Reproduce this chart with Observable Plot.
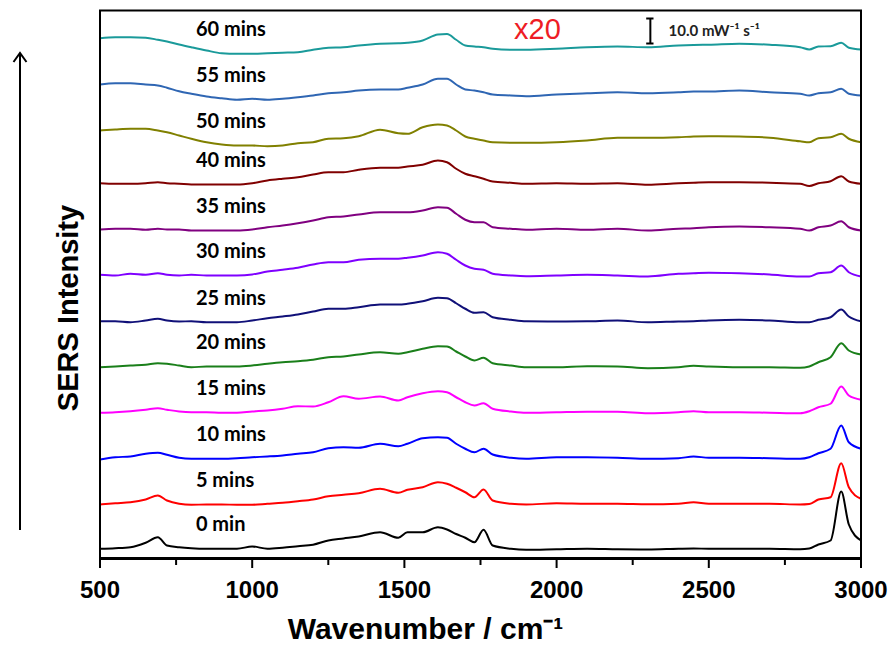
<!DOCTYPE html>
<html>
<head>
<meta charset="utf-8">
<script src="https://cdn.jsdelivr.net/npm/d3@7"></script>
<script src="https://cdn.jsdelivr.net/npm/@observablehq/plot@0.6"></script>
<style>
  html, body { margin: 0; padding: 0; background: #fff; }
  #chart { width: 890px; height: 648px; }
</style>
</head>
<body>
<div id="chart"></div>
<script>
// Wavenumber sample positions (cm^-1)
const wavenumbers = [500,550,600,650,690,720,760,800,850,900,950,1000,1050,1100,1150,1200,1250,1300,1350,1420,1480,1510,1560,1610,1640,1670,1700,1730,1760,1790,1850,1900,2000,2100,2200,2300,2400,2450,2500,2600,2700,2800,2830,2860,2900,2935,2960,3000];

// Spectra (intensity relative to each trace's baseline, mW^-1 s^-1, x20)
const s0  = [0.3,0.5,0.9,2.7,4.9,1.6,0.9,0.5,0.3,0.3, 0.3,1.2,0.3,0.7,1.3,1.9,3.6,4.4,5.2,6.9, 4.7,6.9,6.9,8.9,8.0,6.2,4.7,2.9,7.9,1.6, 0.3,-0.1,0.1,0.3,0.1,0,0.3,0.4,0.3,0.3, 0.3,0.1,0.4,2.0,3.6,23.2,10.0,3.6];
const s5  = [0,0.5,0.9,2.0,3.6,1.6,0.3,-0.1,0,0, -0.1,-0.1,0.3,0.7,1.3,2.0,3.3,3.9,4.5,6.3, 4.7,5.9,6.9,8.9,8.3,6.7,4.9,2.9,6.0,1.6, 0.3,0,0.5,0.3,0.3,0.1,0.3,0.9,0.3,0.3, 0.3,0,0.2,2.0,2.9,16.5,6.9,2.3];
const s10 = [0,0.9,1.2,2.3,2.7,1.9,0.7,0.3,0.3,0.3, 0.5,0.9,1.2,1.6,2.3,2.9,4.5,4.9,4.7,6.3, 5.3,6.3,8.5,8.9,8.7,6.3,4.3,2.9,4.3,2.0, 0.7,0.3,0.9,0.9,0.7,0.3,0.5,1.2,0.7,0.7, 0.5,0.3,0.9,2.5,4.3,13.6,6.9,4.3];
const s15 = [0.1,0.3,0.7,1.3,1.9,1.3,0.6,0.3,0.3,0.1, 0.1,0.6,1.0,1.7,2.7,2.6,4.3,6.7,5.7,6.6, 5.0,6.3,7.9,8.7,8.3,6.3,4.3,3.0,3.9,1.7, 0.6,0.1,0.3,0.5,0.5,-0.1,0.3,0.7,0.3,0.3, 0.1,-0.1,0.7,2.3,3.7,10.6,7.0,5.3];
const s20 = [-0.1,0.2,0.6,0.9,1.5,1.3,0.6,-0.1,0.2,0.2, 0.2,0.6,1.3,1.9,2.3,2.9,3.9,4.2,5.0,5.9, 5.3,5.9,7.3,8.3,8.2,6.2,4.2,2.6,3.7,1.5, 0.6,-0.1,-0.1,0.3,0.2,-0.5,-0.1,0.5,0.2,-0.1, -0.1,-0.3,0.2,1.9,3.9,9.5,6.6,5.0];
const s25 = [-0.1,-0.1,-0.5,0.2,0.9,0.2,-0.2,-0.1,-0.5,-0.5, -0.5,0.2,1.1,1.8,2.6,3.8,4.9,4.9,5.5,6.6, 6.6,6.9,7.9,9.3,9.1,7.1,4.9,3.3,3.5,1.5, 0.5,-0.1,-0.2,-0.1,0.2,-0.5,-0.2,-0.1,0.2,0.5, 0.2,-0.5,-0.5,0.5,1.5,4.6,1.8,-0.1];
const s30 = [0.1,-0.2,0.5,0.1,0.7,0.1,-0.2,0.1,-0.2,-0.2, -0.2,0.2,1.4,2.1,2.9,4.2,5.1,5.1,6.1,6.5, 6.5,6.9,7.8,9.1,8.5,6.1,3.8,2.5,2.1,0.5, -0.2,-0.5,-0.2,0.1,-0.2,-0.6,0.5,0.7,0.9,0.7, 0.2,-0.6,-0.6,0.7,1.1,3.8,1.1,-0.6];
const s35 = [0,0.3,0.3,-0.1,0.3,0,0,-0.4,-0.4,-0.4, -0.4,0,0.9,1.6,2.5,3.6,4.9,5.2,6.0,6.9, 6.9,6.9,7.6,8.9,8.7,6.3,3.9,2.9,2.9,0.9, 0.3,-0.1,0.3,-0.1,0.3,-0.4,0.3,0.5,0.9,1.2, 0.9,0.3,-0.4,0.9,1.6,3.3,0.9,-0.4];
const s40 = [0.1,-0.1,-0.1,0.1,0.5,0.1,-0.1,-0.4,-0.4,-0.4, -0.4,0.1,1.2,1.9,2.5,3.6,4.5,4.5,5.5,6.3, 6.3,6.8,7.5,9.2,8.5,5.9,3.9,2.9,1.9,0.8, 0.3,-0.1,0.1,-0.1,0.1,-0.5,0.1,0.3,0.5,0.5, 0.3,-0.1,-1.0,0.1,0.9,2.9,0.8,-0.1];
const s50 = [0,0.4,0.7,0.7,0,-0.7,-2.0,-3.3,-4.7,-5.6, -6.0,-6.0,-6.3,-6.0,-5.1,-4.7,-3.3,-3.1,-2.3,0.3, -1.1,-1.3,1.3,2.4,2.0,0,-2.4,-3.3,-4.0,-4.7, -4.9,-4.9,-4.7,-4.0,-2.9,-2.9,-2.7,-2.4,-2.3,-2.4, -2.9,-4.3,-4.7,-3.1,-2.7,-1.3,-3.3,-4.7];
const s55 = [0,0.5,0.5,0,-0.4,-1.3,-2.7,-3.7,-4.8,-5.5, -6.1,-5.7,-6.1,-5.7,-5.1,-4.4,-3.5,-3.1,-2.4,-2.0, -2.0,-1.3,0,2.3,2.3,0,-2.0,-2.4,-3.1,-4.0, -4.4,-4.7,-4.0,-3.5,-3.1,-3.5,-3.1,-2.8,-2.8,-2.4, -3.1,-3.7,-4.4,-3.5,-3.1,-1.7,-3.7,-4.4];
const s60 = [-0.1,0.3,0.3,0.1,-0.7,-1.4,-2.6,-3.7,-5.0,-6.1, -6.3,-6.3,-6.1,-5.9,-5.7,-4.7,-3.9,-3.7,-3.0,-2.3, -2.1,-1.9,-1.0,1.4,1.6,-0.7,-3.0,-3.4,-3.7,-4.3, -4.7,-4.7,-4.3,-3.7,-3.4,-3.7,-3.0,-2.8,-2.7,-2.3, -2.7,-3.7,-4.6,-3.4,-3.3,-1.9,-3.9,-4.6];

const spectra = [s0, s5, s10, s15, s20, s25, s30, s35, s40, s50, s55, s60];
const names   = ["0 min","5 mins","10 mins","15 mins","20 mins","25 mins","30 mins","35 mins","40 mins","50 mins","55 mins","60 mins"];
const offsets = [3.6, 21.6, 39.6, 58.2, 76.6, 95.0, 113.4, 131.6, 150.0, 171.2, 189.6, 208.2];
const colors  = ["#000000","#ff0000","#0000ff","#ff00ff","#1a7f1a","#101078","#7f00ff","#800080","#800000","#808000","#2f66b3","#1a9a9a"];

const majorTicks = [500, 1000, 1500, 2000, 2500, 3000];
const minorTicks = [750, 1250, 1750, 2250, 2750];

const scaleBar = {x: 2308, y1: 206, y2: 216, text: "10.0 mW\u207B\u00B9 s\u207B\u00B9", textX: 2368};
const magnification = {x: 1937, y: 211.6, text: "x20"};

const rows = [];
spectra.forEach((s, i) => s.forEach((v, j) => rows.push({wn: wavenumbers[j], y: offsets[i] + v, name: names[i]})));
const labelRows = names.map((n, i) => ({name: n, x: 815, y: offsets[i] + spectra[i][wavenumbers.indexOf(950)] + 9.6}));

const plot = Plot.plot({
  width: 890,
  height: 648,
  marginTop: 10,
  marginBottom: 90,
  marginLeft: 99.5,
  marginRight: 29.5,
  x: {domain: [500, 3000]},
  y: {domain: [0, 219.2], axis: null},
  color: {domain: names, range: colors},
  style: {background: "white", fontFamily: "'Liberation Sans', Arial, sans-serif", color: "black"},
  marks: [
    Plot.line(rows, {x: "wn", y: "y", z: "name", stroke: "name", strokeWidth: 2, curve: "monotone-x"}),
    Plot.axisX({ticks: majorTicks, tickSize: 10, tickPadding: 12, tickFormat: d => String(d), fontSize: 24, fontWeight: "bold", strokeWidth: 2, label: null}),
    Plot.axisX({ticks: minorTicks, tickSize: 7, tickFormat: () => "", strokeWidth: 2, label: null}),
    Plot.frame({strokeWidth: 2, stroke: "black"}),
    Plot.ruleY([0], {strokeWidth: 3, stroke: "black"}),
    Plot.text(labelRows, {x: "x", y: "y", text: "name", textAnchor: "start", fontSize: 20, fontWeight: "bold", fontFamily: "Lato, 'Open Sans', sans-serif", fill: "black"}),
    Plot.text([magnification], {x: "x", y: "y", text: "text", fontSize: 29, fill: "#ee1c25", fontFamily: "'Liberation Sans', Arial, sans-serif"}),
    Plot.ruleX([scaleBar], {x: "x", y1: "y1", y2: "y2", strokeWidth: 2}),
    Plot.ruleY([scaleBar.y1, scaleBar.y2], {y: d => d, x1: scaleBar.x - 12, x2: scaleBar.x + 12, strokeWidth: 2}),
    Plot.text([scaleBar], {x: "textX", y: d => (d.y1 + d.y2) / 2, text: "text", textAnchor: "start", fontSize: 15, fontWeight: "bold", fontFamily: "Lato, 'Open Sans', sans-serif", fill: "#222"}),
    Plot.text(["Wavenumber / cm\u207B\u00B9"], {frameAnchor: "bottom", dx: -55, dy: 71, textAnchor: "middle", lineAnchor: "middle", fontSize: 30, fontWeight: "bold", fill: "black"}),
    Plot.text(["SERS Intensity"], {frameAnchor: "left", rotate: -90, dx: -31.5, dy: 23.5, textAnchor: "middle", lineAnchor: "middle", fontSize: 29, fontWeight: "bold", fill: "black"})
  ]
});

// intensity-direction arrow in the left margin
const svg = d3.select(plot);
const arrowX = 20, arrowTop = 53, arrowBottom = 530;
svg.append("line").attr("x1", arrowX).attr("x2", arrowX).attr("y1", arrowBottom).attr("y2", arrowTop + 1)
  .attr("stroke", "black").attr("stroke-width", 2);
svg.append("path").attr("d", `M${arrowX - 6.5},${arrowTop + 9}L${arrowX},${arrowTop}L${arrowX + 6.5},${arrowTop + 9}`)
  .attr("fill", "none").attr("stroke", "black").attr("stroke-width", 2);

document.getElementById("chart").appendChild(plot);
</script>
</body>
</html>
